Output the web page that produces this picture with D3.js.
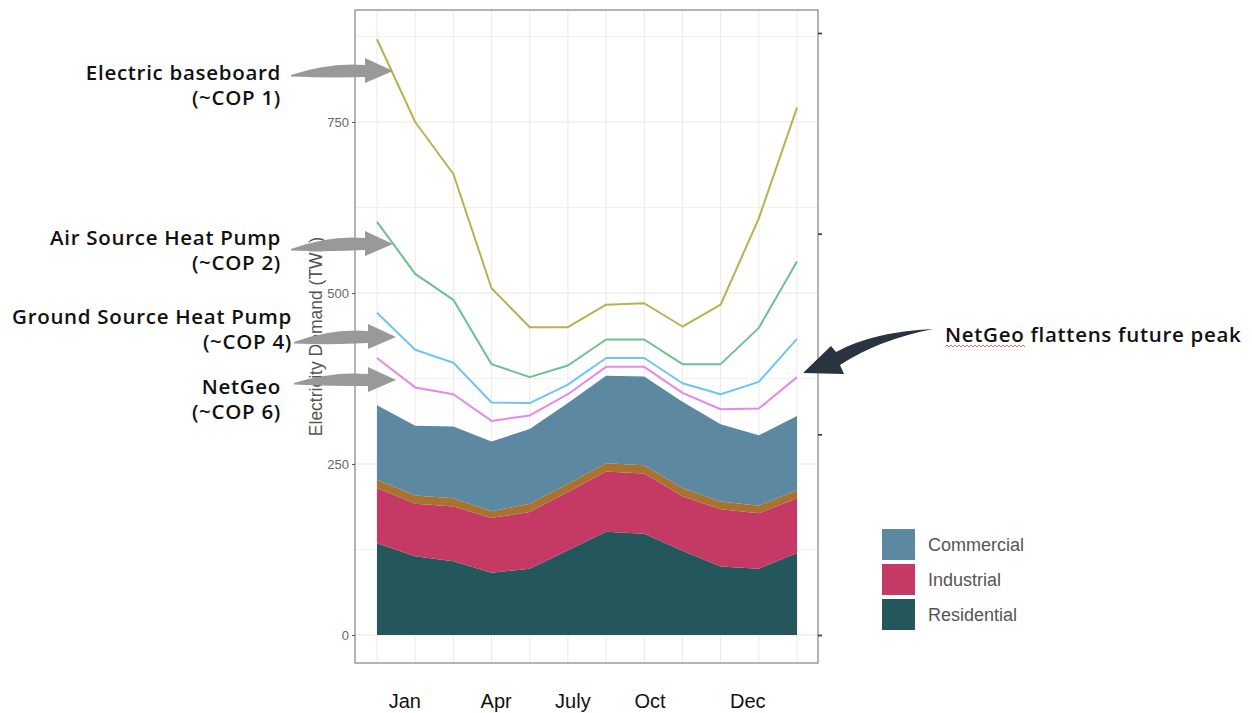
<!DOCTYPE html>
<html><head><meta charset="utf-8">
<script src="https://cdn.jsdelivr.net/npm/d3@7"></script>
<style>body{margin:0;background:#fff;} svg{display:block;}</style>
</head><body>
<svg id="c" width="1252" height="713"></svg>
<script>
// ---------- data ----------
const periods = ["P1","P2","P3","P4","P5","P6","P7","P8","P9","P10","P11","P12"];
const residential = [134,115,108,91,97,124,151,148,123,100,97,120];
const industrial  = [81,77,80,80,83,85,88,88,80,84,81,80];
const otherSector = [12,12,12,10,12,12,12,12,12,11,11,12];
const commercial  = [109,102,105,102,109,118,128,130,126,113,103,108];
const electricBaseboard = [871,750,674,507,450,450,483,485,451,483,609,771];
const airSourceHP       = [604,528,490,396,377,394,432,432,396,396,449,546];
const groundSourceHP    = [471,417,398,340,339,366,405,405,368,352,370,433];
const netGeo            = [405,362,352,313,321,352,392,392,354,330,331,377];
const xTickLabels = ["Jan","Apr","July","Oct","Dec"];
const xTickAt     = [0.73,3.12,5.13,7.15,9.71];
const yTicks = [0,250,500,750];
const legendLabels = ["Commercial","Industrial","Residential"];

// ---------- setup ----------
const svg = d3.select("#c");
const P = {l:355, r:818, t:10, b:663};
const x = d3.scaleLinear([0,11],[377,797]);
const y = d3.scaleLinear([0,750],[635,122]);
const ySec = d3.scaleLinear([0,3],[635,33]);

const colors = {
  residential:"#24575b", industrial:"#c43a65", otherSector:"#a9722f", commercial:"#5d88a1",
  electricBaseboard:"#b9b24b", airSourceHP:"#6cc191", groundSourceHP:"#6ec5f3", netGeo:"#e488ea"
};

// gridlines
const grid = svg.append("g");
grid.selectAll(".gx").data(d3.range(periods.length)).join("line")
  .attr("x1",d=>x(d)).attr("x2",d=>x(d)).attr("y1",P.t).attr("y2",P.b)
  .attr("stroke","#ebebeb").attr("stroke-width",1.1);
grid.selectAll(".gy").data(d3.range(0,876,125)).join("line")
  .attr("x1",P.l).attr("x2",P.r).attr("y1",d=>y(d)).attr("y2",d=>y(d))
  .attr("stroke",d=>d%250===0?"#e8e8e8":"#f1f1f1").attr("stroke-width",1.1);

// stacked areas
const rows = periods.map((p,i)=>({i, residential:residential[i], industrial:industrial[i], otherSector:otherSector[i], commercial:commercial[i]}));
const keys = ["residential","industrial","otherSector","commercial"];
const stack = d3.stack().keys(keys)(rows);
const area = d3.area().x(d=>x(d.data.i)).y0(d=>y(d[0])).y1(d=>y(d[1]));
svg.append("g").selectAll("path").data(stack).join("path")
  .attr("d",area).attr("fill",d=>colors[d.key]);

// lines
const lineSeries = [
  ["electricBaseboard",electricBaseboard],["airSourceHP",airSourceHP],
  ["groundSourceHP",groundSourceHP],["netGeo",netGeo]];
const line = d3.line().x((d,i)=>x(i)).y(d=>y(d));
svg.append("g").selectAll("path").data(lineSeries).join("path")
  .attr("d",d=>line(d[1])).attr("fill","none").attr("stroke",d=>colors[d[0]])
  .attr("stroke-width",2).attr("stroke-linejoin","round");

// panel border
svg.append("rect").attr("x",P.l).attr("y",P.t).attr("width",P.r-P.l).attr("height",P.b-P.t)
  .attr("fill","none").attr("stroke","#8c8c8c").attr("stroke-width",1.3);

// left axis
const yAxis = d3.axisLeft(y).tickValues(yTicks).tickSize(3).tickPadding(3);
const ga = svg.append("g").attr("transform",`translate(${P.l},0)`).call(yAxis);
ga.select(".domain").remove();
ga.selectAll("line").attr("stroke","#555");
ga.selectAll("text").attr("font-family","Liberation Sans, Arial, sans-serif").attr("font-size",13).attr("fill","#666");

// right axis (unlabelled ticks)
const gr = svg.append("g").attr("transform",`translate(${P.r},0)`)
  .call(d3.axisRight(ySec).tickValues([0,1,2,3]).tickSize(4).tickFormat(""));
gr.select(".domain").remove();
gr.selectAll("line").attr("stroke","#444").attr("stroke-width",1.8);

// y title
svg.append("text").attr("transform",`translate(322,${(P.t+P.b)/2}) rotate(-90)`)
  .attr("text-anchor","middle").attr("font-family","Liberation Sans, Arial, sans-serif")
  .attr("font-size",17.5).attr("fill","#555").text("Electricity Demand (TWh)");

// x labels
svg.append("g").selectAll("text").data(xTickLabels).join("text")
  .attr("x",(d,i)=>x(xTickAt[i])).attr("y",708).attr("text-anchor","middle")
  .attr("font-family","Liberation Sans, Arial, sans-serif").attr("font-size",20).attr("fill","#111").text(d=>d);

// legend
const lg = svg.append("g");
const legColors = [colors.commercial, colors.industrial, colors.residential];
legendLabels.forEach((lab,i)=>{
  const yy = 529 + i*35;
  lg.append("rect").attr("x",882).attr("y",yy).attr("width",33).attr("height",31).attr("fill",legColors[i]);
  lg.append("text").attr("x",928).attr("y",yy+22).attr("font-family","Liberation Sans, Arial, sans-serif")
    .attr("font-size",18).attr("fill","#555").text(lab);
});

// annotation arrows (grey)
function greyArrow(tx,ty,hx,hy){
  return `M${tx},${ty} Q${tx+38},${hy-9} ${hx-28},${hy-6} L${hx-28},${hy-13} L${hx},${hy} L${hx-28},${hy+12} L${hx-28},${hy+6} Q${tx+40},${ty+3} ${tx},${ty+1.5} Z`;
}
const arrows = [[291,75,393,71],[291,249,393,244],[294,342,396,337],[294,383,396,380]];
svg.append("g").selectAll("path").data(arrows).join("path")
  .attr("d",d=>greyArrow(...d)).attr("fill","#999");

// dark arrow
svg.append("path")
  .attr("d","M933,329 Q872,332 836,352 L831,346 L803,373 L844,374 L840,365 Q878,340 933,329 Z")
  .attr("fill","#2a3441");

// annotation text
const annF = "'Open Sans', 'DejaVu Sans', sans-serif";
const annSize = 20.5, annLS = 0.7;
svg.append("defs").append("clipPath").attr("id","clipL").append("rect")
  .attr("x",12).attr("y",0).attr("width",1240).attr("height",713);
const ann = svg.append("g").attr("clip-path","url(#clipL)");
const annLines = [
  ["Electric baseboard",281,80],["(~COP 1)",281,105],
  ["Air Source Heat Pump",281,245],["(~COP 2)",281,270],
  ["Ground Source Heat Pump",292,324],["(~COP 4)",292,349],
  ["NetGeo",281,394],["(~COP 6)",281,419]];
ann.selectAll("text").data(annLines).join("text")
  .attr("x",d=>d[1]).attr("y",d=>d[2]).attr("text-anchor","end")
  .attr("font-family",annF).attr("font-weight",600).attr("font-size",annSize)
  .attr("letter-spacing",annLS).attr("fill","#111").text(d=>d[0]);

const rt = svg.append("text").attr("x",945).attr("y",342)
  .attr("font-family",annF).attr("font-weight",600).attr("font-size",annSize)
  .attr("letter-spacing",annLS).attr("fill","#111");
const t1 = rt.append("tspan").text("NetGeo");
rt.append("tspan").text(" flattens future peak");
// spell-check squiggle
const w = t1.node().getComputedTextLength();
let sq = `M945,347`;
for(let xx=945, k=0; xx<945+w; xx+=2, k++){ sq += ` L${xx+2},${k%2?347:345}`; }
svg.append("path").attr("d",sq).attr("fill","none").attr("stroke","#e35a5a").attr("stroke-width",0.9);
</script>
</body></html>
